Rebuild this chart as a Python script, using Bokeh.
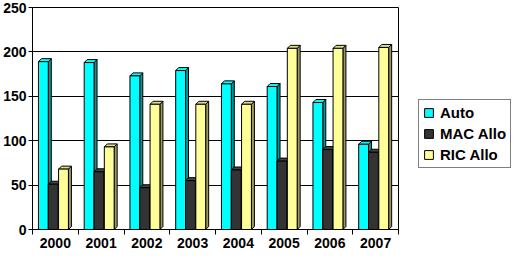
from bokeh.plotting import figure
from bokeh.models import FixedTicker, Legend, LegendItem, ColumnDataSource
from bokeh.embed import file_html
from bokeh.resources import INLINE

years = ["2000", "2001", "2002", "2003", "2004", "2005", "2006", "2007"]
auto = [189, 188, 173, 179, 164, 161, 143, 96]
mac = [51, 65, 47, 55, 67, 77, 90, 87]
ric = [68, 93, 141, 141, 141, 204, 204, 205]
series_names = ["Auto", "MAC Allo", "RIC Allo"]
y_ticks = [0, 50, 100, 150, 200, 250]

BL, BR, BT, BB = 30, 108, 7, 23
frame_w = 366
frame_h = 222
n = len(years)
ymax = 250
dx = 3.0 * n / frame_w
dy = 3.0 * ymax / frame_h
bw = 0.215
FONT = "Liberation Sans"

p = figure(frame_width=frame_w, frame_height=frame_h, x_range=(0, n), y_range=(0, ymax),
           output_backend="svg", toolbar_location=None,
           min_border_left=BL, min_border_right=BR, min_border_top=BT, min_border_bottom=BB)
p.outline_line_color = "black"
p.outline_line_width = 1
p.xgrid.grid_line_color = None
p.ygrid.grid_line_color = "black"
p.ygrid.grid_line_width = 1
p.ygrid.ticker = FixedTicker(ticks=y_ticks)

p.yaxis.ticker = FixedTicker(ticks=y_ticks)
p.yaxis.axis_line_color = "black"
p.yaxis.major_tick_out = 4
p.yaxis.major_tick_in = 0
p.yaxis.minor_tick_line_color = None
p.yaxis.major_label_text_font = FONT
p.yaxis.major_label_text_font_style = "bold"
p.yaxis.major_label_text_font_size = "14px"
p.yaxis.major_label_text_color = "black"
p.yaxis.major_label_standoff = 2

centers = [i + 0.5 for i in range(n)]
p.xaxis.ticker = FixedTicker(ticks=centers, minor_ticks=list(range(n + 1)))
p.xaxis.major_label_overrides = {c: y for c, y in zip(centers, years)}
p.xaxis.major_tick_line_color = None
p.xaxis.minor_tick_out = 5
p.xaxis.minor_tick_in = 0
p.xaxis.minor_tick_line_color = "black"
p.xaxis.axis_line_color = "black"
p.xaxis.major_label_text_font = FONT
p.xaxis.major_label_text_font_style = "bold"
p.xaxis.major_label_text_font_size = "14px"
p.xaxis.major_label_text_color = "black"
p.xaxis.major_label_standoff = 2

styles = [("#00FFFF", "#00FFFF", "#009999"),
          ("#333333", "#444444", "#111111"),
          ("#FFFF99", "#DDDD88", "#999966")]
starts = [0.13, 0.13 + bw, 0.13 + 2 * bw + 0.01]

fronts = []
for vals, off, (fc, tc, sc) in zip([auto, mac, ric], starts, styles):
    x0 = [i + off for i in range(n)]
    x1 = [a + bw for a in x0]
    side = ColumnDataSource(dict(
        xs=[[b, b + dx, b + dx, b] for b in x1],
        ys=[[0, dy, v + dy, v] for v in vals]))
    top = ColumnDataSource(dict(
        xs=[[a, b, b + dx, a + dx] for a, b in zip(x0, x1)],
        ys=[[v, v, v + dy, v + dy] for v in vals]))
    p.patches("xs", "ys", source=side, fill_color=sc, line_color="black", line_width=1)
    p.patches("xs", "ys", source=top, fill_color=tc, line_color="black", line_width=1)
    fr = p.quad(left=x0, right=x1, bottom=0, top=vals, fill_color=fc,
                line_color="black", line_width=1)
    fronts.append(fr)

legend = Legend(items=[LegendItem(label=nm, renderers=[r]) for nm, r in zip(series_names, fronts)],
                location=(20, 61), orientation="vertical")
legend.label_text_font = FONT
legend.label_text_font_style = "bold"
legend.label_text_font_size = "15px"
legend.label_text_color = "black"
legend.glyph_width = 11
legend.glyph_height = 11
legend.label_height = 17
legend.label_standoff = 6
legend.spacing = 4
legend.padding = 4
legend.margin = 0
legend.border_line_color = "black"
legend.border_line_width = 1
legend.background_fill_alpha = 1
p.add_layout(legend, "right")

open("out.html", "w").write(file_html(p, INLINE))
